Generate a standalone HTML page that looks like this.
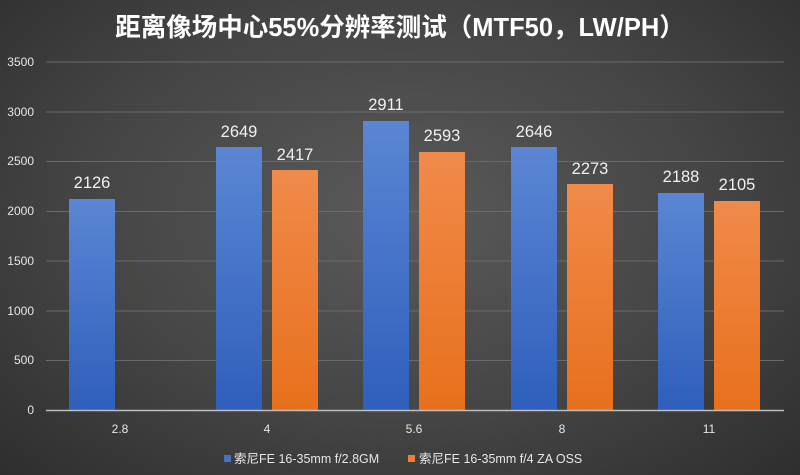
<!DOCTYPE html>
<html><head><meta charset="utf-8"><style>
html,body{margin:0;padding:0;width:800px;height:475px;overflow:hidden;}
body{background:radial-gradient(ellipse at 50% 45%,#5a5a5a 0%,#454545 55%,#2e2e2e 100%);font-family:"Liberation Sans","Noto Sans CJK SC",sans-serif;}
</style></head><body>
<svg width="800" height="475" xmlns="http://www.w3.org/2000/svg" style="position:absolute;left:0;top:0">
<defs>
<linearGradient id="b" x1="0" y1="0" x2="0" y2="1"><stop offset="0" stop-color="#5b86d4"/><stop offset="1" stop-color="#2f5fbc"/></linearGradient>
<linearGradient id="o" x1="0" y1="0" x2="0" y2="1"><stop offset="0" stop-color="#f08a4a"/><stop offset="1" stop-color="#e8701c"/></linearGradient>
</defs>
<text x="400" y="36" fill="#fff" font-size="25.5" font-weight="bold" text-anchor="middle" font-family="Liberation Sans,Noto Sans CJK SC,sans-serif">距离像场中心55%分辨率测试（MTF50，LW/PH）</text>
<g stroke="#6a6a6a" stroke-width="1">
<line x1="46" x2="784" y1="62" y2="62"/><line x1="46" x2="784" y1="112" y2="112"/><line x1="46" x2="784" y1="161.5" y2="161.5"/><line x1="46" x2="784" y1="211.5" y2="211.5"/><line x1="46" x2="784" y1="261" y2="261"/><line x1="46" x2="784" y1="311" y2="311"/><line x1="46" x2="784" y1="360.5" y2="360.5"/>
</g>
<g fill="#e6e6e6" font-size="12" text-anchor="end">
<text x="34" y="66">3500</text><text x="34" y="116">3000</text><text x="34" y="165">2500</text><text x="34" y="215">2000</text><text x="34" y="265">1500</text><text x="34" y="315">1000</text><text x="34" y="364">500</text><text x="34" y="414">0</text>
</g>
<g>
<rect x="69" y="199" width="46" height="211" fill="url(#b)"/>
<rect x="216" y="147" width="46" height="263" fill="url(#b)"/>
<rect x="272" y="170" width="46" height="240" fill="url(#o)"/>
<rect x="363" y="121" width="46" height="289" fill="url(#b)"/>
<rect x="419" y="152" width="46" height="258" fill="url(#o)"/>
<rect x="511" y="147" width="46" height="263" fill="url(#b)"/>
<rect x="567" y="184" width="46" height="226" fill="url(#o)"/>
<rect x="658" y="193" width="46" height="217" fill="url(#b)"/>
<rect x="714" y="201" width="46" height="209" fill="url(#o)"/>
</g>
<line x1="46" x2="784" y1="410.5" y2="410.5" stroke="#bdbdbd" stroke-width="1.5"/>
<g fill="#f0f0f0" font-size="16.5" text-anchor="middle">
<text x="92" y="188">2126</text>
<text x="239" y="137">2649</text><text x="295" y="160">2417</text>
<text x="386" y="110">2911</text><text x="442" y="141">2593</text>
<text x="534" y="137">2646</text><text x="590" y="174">2273</text>
<text x="681" y="182">2188</text><text x="737" y="190">2105</text>
</g>
<g fill="#e6e6e6" font-size="12" text-anchor="middle">
<text x="120" y="433">2.8</text><text x="267" y="433">4</text><text x="414" y="433">5.6</text><text x="562" y="433">8</text><text x="709" y="433">11</text>
</g>
<rect x="224" y="455" width="7" height="7" fill="#4472c4"/>
<text x="234" y="463" fill="#e6e6e6" font-size="12.5" font-family="Liberation Sans,Noto Sans CJK SC,sans-serif">索尼FE 16-35mm f/2.8GM</text>
<rect x="408" y="455" width="7" height="7" fill="#ed7d31"/>
<text x="419" y="463" fill="#e6e6e6" font-size="12.5" font-family="Liberation Sans,Noto Sans CJK SC,sans-serif">索尼FE 16-35mm f/4 ZA OSS</text>
</svg>
</body></html>
